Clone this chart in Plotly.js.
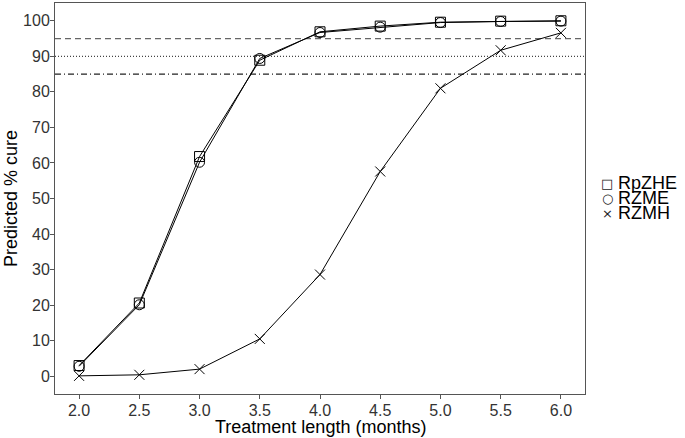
<!DOCTYPE html>
<html>
<head>
<meta charset="utf-8">
<script src="https://cdn.plot.ly/plotly-3.0.1.min.js"></script>
<style>html,body{margin:0;padding:0;background:#fff}#chart{width:685px;height:438px}</style>
</head>
<body>
<div id="chart"></div>
<script>
var months = [2.0, 2.5, 3.0, 3.5, 4.0, 4.5, 5.0, 5.5, 6.0];
var rpzhe = [3.0, 20.6, 61.8, 88.9, 96.9, 98.5, 99.6, 99.9, 100.0];
var rzme  = [2.8, 20.1, 60.2, 89.4, 96.7, 98.2, 99.5, 99.8, 99.9];
var rzmh  = [0.1, 0.4, 2.0, 10.5, 28.6, 57.6, 81.0, 91.7, 96.6];
var seriesNames = ["RpZHE", "RZME", "RZMH"];
var legendGlyphs = ["\u25A1", "\u25CB", "\u00D7"];
var refLevels = [95, 90, 85];
var xTicks = [2.0, 2.5, 3.0, 3.5, 4.0, 4.5, 5.0, 5.5, 6.0];
var xTickText = ["2.0", "2.5", "3.0", "3.5", "4.0", "4.5", "5.0", "5.5", "6.0"];
var yTicks = [0, 10, 20, 30, 40, 50, 60, 70, 80, 90, 100];

var symbols = ["square-open", "circle-open", "x-thin-open"];
var data = [rpzhe, rzme, rzmh].map(function (ys, i) {
  return {
    x: months, y: ys, name: seriesNames[i], type: "scatter", mode: "lines+markers",
    showlegend: false,
    line: {color: "#000", width: 1},
    marker: {symbol: symbols[i], size: 10, color: "#000", line: {color: "#000", width: 1}}
  };
});
var dashes = ["6px,4px", "1px,2px", "6px,3px,1px,3px"];
var lineColors = ["#666", "#444", "#222"];
var shapes = refLevels.map(function (v, i) {
  return {type: "line", xref: "paper", x0: 0, x1: 1, yref: "y", y0: v, y1: v,
          line: {color: lineColors[i], width: 1.2, dash: dashes[i]}, layer: "below"};
});

// key drawn as text rows (tight spacing like the reference)
var annotations = [{text: "Treatment length (months)", xref: "paper", yref: "paper", x: 0.5, y: 0,
                    yshift: -33, xanchor: "center", yanchor: "middle", showarrow: false,
                    font: {size: 18, color: "#000"}}];
seriesNames.forEach(function (n, i) {
  var yp = 183 + 15 * i;
  annotations.push({text: legendGlyphs[i], xref: "paper", yref: "paper",
                    x: (607 - 55) / 530, y: (394 - yp) / 391, xanchor: "center", yanchor: "middle",
                    showarrow: false, font: {size: 13, color: "#222", family: "DejaVu Sans"}});
  annotations.push({text: n, xref: "paper", yref: "paper",
                    x: (616 - 55) / 530, y: (394 - yp) / 391, xanchor: "left", yanchor: "middle",
                    showarrow: false, font: {size: 18, color: "#000"}});
});

var layout = {
  width: 685, height: 438,
  margin: {l: 55, r: 100, t: 3, b: 44},
  paper_bgcolor: "#fff", plot_bgcolor: "#fff",
  font: {family: "Liberation Sans, Arial, sans-serif", color: "#000"},
  showlegend: false,
  xaxis: {range: [1.8, 6.2], tickvals: xTicks, ticktext: xTickText, showgrid: false, zeroline: false,
          showline: true, linecolor: "#555", linewidth: 1, mirror: true,
          ticks: "outside", ticklen: 4, tickcolor: "#555", ticklabelstandoff: -2,
          tickfont: {size: 16, color: "#333"}},
  yaxis: {range: [-5, 105], tickvals: yTicks, showgrid: false, zeroline: false,
          showline: true, linecolor: "#555", linewidth: 1, mirror: true,
          ticks: "outside", ticklen: 4, tickcolor: "#555", ticklabelstandoff: -3,
          tickfont: {size: 16, color: "#333"},
          title: {text: "Predicted % cure", font: {size: 18, color: "#000"}, standoff: 0}},
  annotations: annotations,
  shapes: shapes
};
Plotly.newPlot("chart", data, layout, {displayModeBar: false, staticPlot: true});
</script>
</body>
</html>
